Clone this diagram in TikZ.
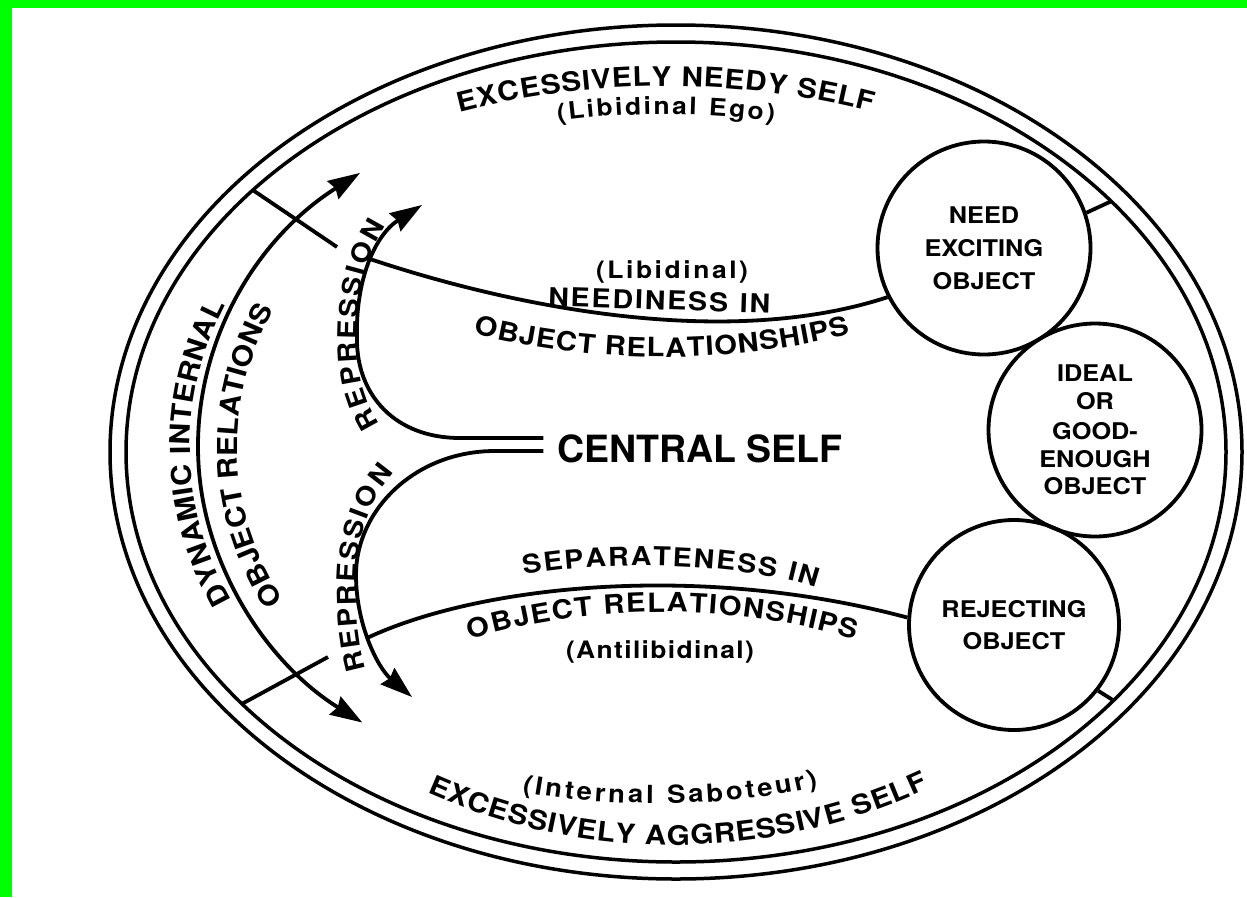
\documentclass[tikz,border=0pt]{standalone}
\usepackage{fontspec}
\setmainfont{TeX Gyre Heros}
\newfontfamily\widesf[FakeStretch=1.1]{TeX Gyre Heros}
\usetikzlibrary{arrows.meta,decorations.text,calc}
\newcommand{\fsz}[1]{\widesf\fontsize{#1}{#1}\selectfont\bfseries}

\begin{document}
\begin{tikzpicture}[x=1pt,y=1pt,line width=3.8pt,
    >={Stealth[length=32pt,width=21pt,inset=3pt]},
    obj/.style={circle,draw,minimum size=213pt,inner sep=0pt,align=center,font=\fsz{23}},
    along/.style={decorate,decoration={text along path,text align=fit to path,text={#1}}}]
  \useasboundingbox (0,0) rectangle (1247,-897);
  \fill[white] (0,0) rectangle (1247,-897);
  \fill[green] (0,0) rectangle (12,-897);
  \fill[green] (0,0) rectangle (1247,-8);

  % the two outer rings
  \coordinate (c) at (676,-452);
  \draw[line width=3.5pt] (c) ellipse[x radius=566,y radius=427];
  \draw[line width=3.5pt] (c) ellipse[x radius=550,y radius=410];

  % objects on the right
  \node[obj] (need) at (984,-248) {NEED\\[10pt]EXCITING\\[10pt]OBJECT};
  \node[obj] (ideal) at (1095,-430) {IDEAL\\[5pt]OR\\[7pt]GOOD-\\[5pt]ENOUGH\\[4pt]OBJECT};
  \node[obj,minimum size=210pt] (rej) at (1014,-625) {REJECTING\\[9pt]OBJECT};
  \draw (need.19) -- ([shift={(37.7:550 and 410)}]c);
  \draw (rej.-38) -- ([shift={(322.7:550 and 410)}]c);

  \node[font=\fontsize{37.5}{37.5}\selectfont\bfseries,inner sep=0pt] (cs) at (700,-449) {CENTRAL SELF};

  % libidinal and antilibidinal lines
  \coordinate (nl) at ([shift={(140.3:550 and 410)}]c);
  \coordinate (sl) at ([shift={(217.9:550 and 410)}]c);
  \draw (nl) -- (337,-247);
  \draw (367,-258) .. controls (500,-303) and (720,-352) .. (need.207);
  \draw (sl) -- (328,-657);
  \draw (367,-638) .. controls (480,-585) and (700,-562) .. (rej.176);

  % dynamic arrow
  \coordinate (a) at (598,-447);
  \draw[<->] ([shift={(126.5:400 and 341)}]a) arc[start angle=126.5,end angle=233.9,x radius=400,y radius=341];

  % repression arrows
  \draw[->] ([xshift=-12pt,yshift=11pt]cs.west) -- (460,-438) .. controls (395,-438) and (357,-395) .. (357,-340) .. controls (355,-280) and (375,-235) .. (422,-205);
  \draw[->] ([xshift=-12pt,yshift=-2pt]cs.west) -- (495,-451) .. controls (415,-451) and (356,-510) .. (356,-575) .. controls (356,-625) and (378,-668) .. (412,-697);

  % curved labels
  \path[along={|\fsz{27}|EXCESSIVELY NEEDY SELF}] (666,-915) ++(104.4:829) arc[start angle=104.4,end angle=75.6,radius=829];
  \path[along={|\fsz{24}|(Libidinal Ego)}] (666,-915) ++(97.75:801) arc[start angle=97.75,end angle=82.25,radius=801];
  \path[along={|\fsz{25}|(Internal Saboteur)}] (522,-792) .. controls (600,-808) and (740,-808) .. (818,-786);
  \path[along={|\fsz{27}|EXCESSIVELY AGGRESSIVE SELF}] (673,-241) ++(246:604) arc[start angle=246,end angle=295,radius=604];

  \path[along={|\fsz{27.5}|DYNAMIC INTERNAL}] ([shift={(206:408 and 349)}]a) arc[start angle=206,end angle=156,x radius=408,y radius=349];
  \path[along={|\fsz{27.5}|OBJECT RELATIONS}] ([shift={(209.6:361 and 310)}]a) arc[start angle=209.6,end angle=153.8,x radius=361,y radius=310];

  \path[along={|\fsz{26}|REPRESSION},decoration={raise=5pt}] (384,-422) .. controls (366,-395) and (361,-365) .. (362,-330) .. controls (363,-290) and (372,-255) .. (390,-228);
  \path[along={|\fsz{26}|REPRESSION},decoration={raise=5pt}] (371,-668) .. controls (364,-645) and (361,-615) .. (361,-585) .. controls (361,-535) and (378,-497) .. (398,-476);

  \path[along={|\fsz{24}|(Libidinal)}] (596,-278) -- (748,-278);
  \path[along={|\fsz{26}|NEEDINESS IN}] (548,-306) -- (770,-313);
  \path[along={|\fsz{26.5}|OBJECT RELATIONSHIPS}] (663,432) ++(256.1:789) arc[start angle=256.1,end angle=283.7,radius=789];
  \path[along={|\fsz{26}|SEPARATENESS IN}] (524,-575) .. controls (600,-560) and (740,-562) .. (816,-588);
  \path[along={|\fsz{26.5}|OBJECT RELATIONSHIPS}] (662,-1305) ++(106.1:693) arc[start angle=106.1,end angle=73.8,radius=693];
  \path[along={|\fsz{24}|(Antilibidinal)}] (566,-658) -- (754,-658);
\end{tikzpicture}
\end{document}
